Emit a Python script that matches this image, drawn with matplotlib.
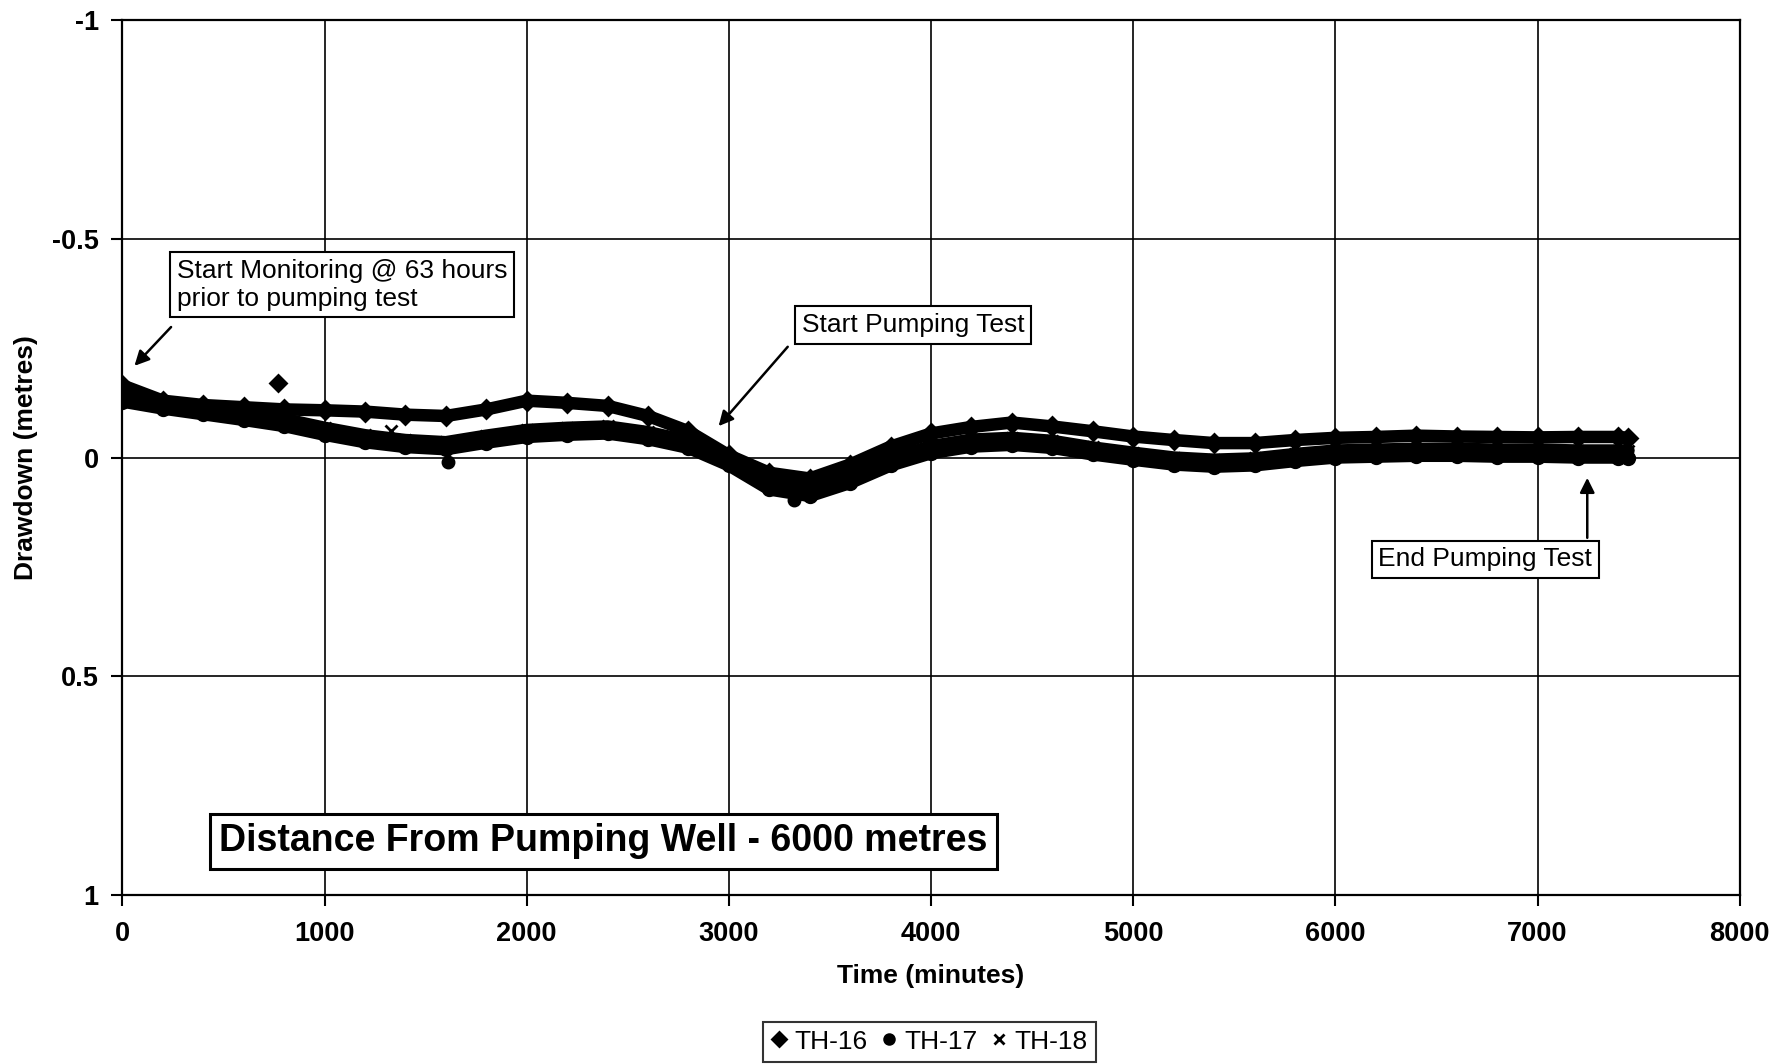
import matplotlib
matplotlib.use('Agg')
import matplotlib.pyplot as plt

plt.rcParams['font.family'] = ['Liberation Sans', 'DejaVu Sans']

# time in minutes, drawdown in metres
time_min = [0, 200, 400, 600, 800, 1000, 1200, 1400, 1600, 1800,
            2000, 2200, 2400, 2600, 2800, 3000, 3200, 3400, 3600, 3800,
            4000, 4200, 4400, 4600, 4800, 5000, 5200, 5400, 5600, 5800,
            6000, 6200, 6400, 6600, 6800, 7000, 7200, 7400, 7450]

th16 = [-0.165, -0.13, -0.12, -0.115, -0.11, -0.108, -0.105, -0.098, -0.095, -0.11,
        -0.13, -0.125, -0.118, -0.095, -0.06, -0.005, 0.035, 0.048, 0.016, -0.025,
        -0.055, -0.07, -0.08, -0.071, -0.06, -0.048, -0.04, -0.033, -0.033, -0.04,
        -0.045, -0.047, -0.05, -0.048, -0.047, -0.046, -0.047, -0.047, -0.045]

th17 = [-0.128, -0.112, -0.099, -0.086, -0.072, -0.052, -0.035, -0.024, -0.019, -0.034,
        -0.047, -0.052, -0.055, -0.042, -0.022, 0.018, 0.073, 0.088, 0.058, 0.018,
        -0.01, -0.025, -0.029, -0.022, -0.007, 0.005, 0.016, 0.021, 0.018, 0.008,
        0.0, -0.002, -0.004, -0.004, -0.002, -0.002, 0.0, 0.0, 0.0]

th18 = [-0.142, -0.128, -0.115, -0.102, -0.088, -0.068, -0.051, -0.04, -0.035, -0.05,
        -0.063, -0.068, -0.071, -0.058, -0.038, 0.002, 0.057, 0.072, 0.042, 0.002,
        -0.026, -0.041, -0.045, -0.038, -0.023, -0.011, 0.0, 0.005, 0.002, -0.008,
        -0.016, -0.018, -0.02, -0.02, -0.018, -0.018, -0.016, -0.016, -0.016]

# stray single readings
th16_out_t, th16_out_v = [770], [-0.17]
th17_out_t, th17_out_v = [1610, 3320], [0.01, 0.096]
th18_out_t, th18_out_v = [1330], [-0.06]

x_ticks = [0, 1000, 2000, 3000, 4000, 5000, 6000, 7000, 8000]
y_ticks = [-1, -0.5, 0, 0.5, 1]
y_tick_labels = ['-1', '-0.5', '0', '0.5', '1']

fig = plt.figure(figsize=(17.77, 10.64), dpi=100)
ax = fig.add_axes([0.0689, 0.159, 0.9101, 0.822])

series = [('TH-16', th16, 'D', th16_out_t, th16_out_v),
          ('TH-17', th17, 'o', th17_out_t, th17_out_v),
          ('TH-18', th18, 'x', th18_out_t, th18_out_v)]
for name, vals, mk, ot, ov in series:
    ax.plot(time_min, vals, color='black', lw=9, solid_capstyle='round', zorder=3)
    ax.plot(time_min, vals, ls='none', marker=mk, color='black', ms=9, mew=2, zorder=4)
    ax.plot(ot, ov, ls='none', marker=mk, color='black', ms=8, mew=2, zorder=4)
    ax.plot([], [], ls='none', marker=mk, color='black', ms=7, mew=2, label=name)

ax.set_xlim(0, 8000)
ax.set_ylim(1, -1)
ax.set_xticks(x_ticks)
ax.set_xticklabels([str(t) for t in x_ticks])
ax.set_yticks(y_ticks)
ax.set_yticklabels(y_tick_labels)
ax.tick_params(direction='out', length=8, width=1.5, labelsize=19.5, colors='black')
ax.tick_params(axis='x', pad=11)
ax.tick_params(axis='y', pad=9)
for lab in ax.get_xticklabels() + ax.get_yticklabels():
    lab.set_fontweight('bold')
ax.grid(True, color='black', lw=1.2)
ax.set_axisbelow(True)
for sp in ax.spines.values():
    sp.set_linewidth(1.6)

ax.set_xlabel('Time (minutes)', fontsize=19, fontweight='bold', labelpad=12)
ax.set_ylabel('Drawdown (metres)', fontsize=19, fontweight='bold', labelpad=10)

box = dict(boxstyle='square,pad=0.25', fc='white', ec='black', lw=1.5)
arrow = dict(arrowstyle='-|>', color='black', lw=1.8, mutation_scale=22)

ax.text(270, -0.395, 'Start Monitoring @ 63 hours\nprior to pumping test', fontsize=19,
        ha='left', va='center', bbox=box, zorder=6, linespacing=1.2)
ax.annotate('', xy=(50, -0.205), xytext=(250, -0.303), arrowprops=arrow, zorder=6)

ax.text(3910, -0.303, 'Start Pumping Test', fontsize=19, ha='center', va='center',
        bbox=box, zorder=6)
ax.annotate('', xy=(2940, -0.067), xytext=(3300, -0.258), arrowprops=arrow, zorder=6)

ax.text(6741, 0.233, 'End Pumping Test', fontsize=19, ha='center', va='center',
        bbox=box, zorder=6)
ax.annotate('', xy=(7246, 0.04), xytext=(7246, 0.19), arrowprops=arrow, zorder=6)

ax.text(2378, 0.878, 'Distance From Pumping Well - 6000 metres', fontsize=27,
        fontweight='bold', ha='center', va='center', zorder=6,
        bbox=dict(boxstyle='square,pad=0.25', fc='white', ec='black', lw=2.2))

leg = fig.legend(loc='center', bbox_to_anchor=(0.523, 0.021), ncol=3, fontsize=19,
                 frameon=True, fancybox=False, edgecolor='black', handlelength=0.6,
                 handletextpad=0.3, columnspacing=0.5, borderpad=0.3)
leg.get_frame().set_linewidth(1.5)

fig.savefig('out.png', dpi=100, facecolor='white')
